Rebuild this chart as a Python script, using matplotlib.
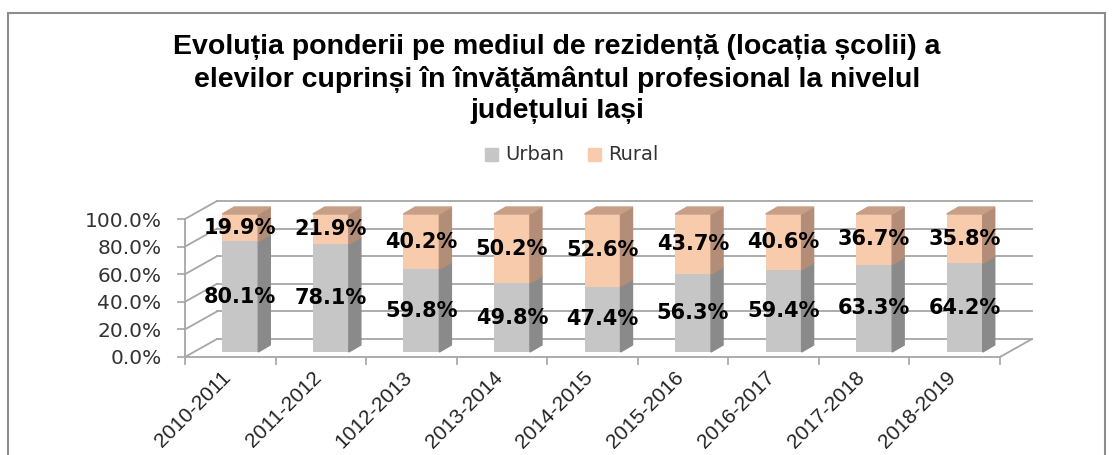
import matplotlib.pyplot as plt
from matplotlib.patches import Polygon, Rectangle

years = ['2010-2011', '2011-2012', '1012-2013', '2013-2014', '2014-2015',
         '2015-2016', '2016-2017', '2017-2018', '2018-2019']
urban = [80.1, 78.1, 59.8, 49.8, 47.4, 56.3, 59.4, 63.3, 64.2]
rural = [19.9, 21.9, 40.2, 50.2, 52.6, 43.7, 40.6, 36.7, 35.8]
yticks = [0, 20, 40, 60, 80, 100]

urban_col, urban_side = '#c6c6c6', '#8a8a8a'
rural_col, rural_side, rural_top = '#f8cbad', '#b38d77', '#c79e86'
grid_col = '#a6a6a6'

W, H = 1114, 455
fig = plt.figure(figsize=(W / 100, H / 100), dpi=100)

# front plane of the 3d box: x 185..1000 px, y 357..219 px
ax = fig.add_axes([185 / W, (H - 357) / H, 815 / W, 138 / H])
ax.set_xlim(-0.5, len(years) - 0.5)
ax.set_ylim(0, 100)

px_x = len(years) / 815.0   # data units per pixel
px_y = 100 / 138.0
wall_dx, wall_dy = 32 * px_x, 18 * px_y   # depth of the back wall
bar_dx, bar_dy = 10 * px_x, 5 * px_y      # bars sit a bit behind the front
side_dx, side_dy = 12 * px_x, 7 * px_y    # bar depth
bw = 36 * px_x

x = list(range(len(years)))
x0, x1 = -0.5, len(years) - 0.5

# back wall grid + left side wall
for v in yticks:
    ax.plot([x0 + wall_dx, x1 + wall_dx], [v + wall_dy, v + wall_dy],
            color=grid_col, lw=1.3, clip_on=False, zorder=1)
    ax.plot([x0, x0 + wall_dx], [v, v + wall_dy],
            color=grid_col, lw=1.3, clip_on=False, zorder=1)
# floor right edge
ax.plot([x1, x1 + wall_dx], [0, wall_dy], color=grid_col, lw=1.3,
        clip_on=False, zorder=1)

xb = [i + bar_dx for i in x]
ax.bar(xb, urban, width=bw, bottom=bar_dy, color=urban_col, zorder=3,
       clip_on=False)
rural_bottom = [u + bar_dy for u in urban]
ax.bar(xb, rural, width=bw, bottom=rural_bottom, color=rural_col, zorder=3,
       clip_on=False)

for xi, u, r in zip(xb, urban, rural):
    xr = xi + bw / 2
    lo, mid, hi = bar_dy, bar_dy + u, bar_dy + u + r
    ax.add_patch(Polygon([(xr, lo), (xr + side_dx, lo + side_dy),
                          (xr + side_dx, mid + side_dy), (xr, mid)],
                         closed=True, color=urban_side, zorder=3, clip_on=False))
    ax.add_patch(Polygon([(xr, mid), (xr + side_dx, mid + side_dy),
                          (xr + side_dx, hi + side_dy), (xr, hi)],
                         closed=True, color=rural_side, zorder=3, clip_on=False))
    ax.add_patch(Polygon([(xi - bw / 2, hi), (xr, hi),
                          (xr + side_dx, hi + side_dy),
                          (xi - bw / 2 + side_dx, hi + side_dy)],
                         closed=True, color=rural_top, zorder=3, clip_on=False))
    ax.text(xi, lo + u / 2, f'{u:.1f}%', ha='center', va='center',
            fontsize=15, fontweight='bold', zorder=5)
    ax.text(xi, mid + r / 2, f'{r:.1f}%', ha='center', va='center',
            fontsize=15, fontweight='bold', zorder=5)

for s in ['top', 'right']:
    ax.spines[s].set_visible(False)
for s in ['left', 'bottom']:
    ax.spines[s].set_color(grid_col)
    ax.spines[s].set_linewidth(1.3)
ax.patch.set_alpha(0)

ax.set_yticks(yticks)
ax.set_yticklabels([f'{v:.1f}%' for v in yticks], fontsize=14.5, color='#333333')
ax.tick_params(axis='y', length=6, width=1.2, color=grid_col, pad=11)

ax.set_xticks([i - 0.5 for i in range(len(years) + 1)])
ax.set_xticklabels([])
ax.tick_params(axis='x', length=6, width=1.2, color=grid_col)
for i, lab in enumerate(years):
    ax.text(i - 0.1, -8, lab, rotation=45, ha='right', va='top',
            rotation_mode='anchor', fontsize=15, family='Liberation Sans',
            color='#222222', clip_on=False)

# legend
fig.patches.append(Rectangle((485 / W, 1 - 161 / H), 13 / W, 13 / H,
                             color=urban_col, transform=fig.transFigure))
fig.text(505 / W, 1 - 155 / H, 'Urban', fontsize=14, va='center', color='#333333')
fig.patches.append(Rectangle((588 / W, 1 - 161 / H), 13 / W, 13 / H,
                             color=rural_col, transform=fig.transFigure))
fig.text(608 / W, 1 - 155 / H, 'Rural', fontsize=14, va='center', color='#333333')

fig.text(557 / W, 1 - 79 / H,
         'Evoluția ponderii pe mediul de rezidență (locația școlii) a\n'
         'elevilor cuprinși în învățământul profesional la nivelul\n'
         'județului Iași',
         ha='center', va='center', fontsize=20.5, fontweight='bold',
         family='Liberation Sans', linespacing=1.25)

# outer chart border
fig.patches.append(Rectangle((8 / W, -0.05), 1097 / W, 1 - 13 / H + 0.05,
                             fill=False, edgecolor='#8c8c8c', lw=1.5,
                             transform=fig.transFigure))

fig.savefig('out.png', dpi=100)
